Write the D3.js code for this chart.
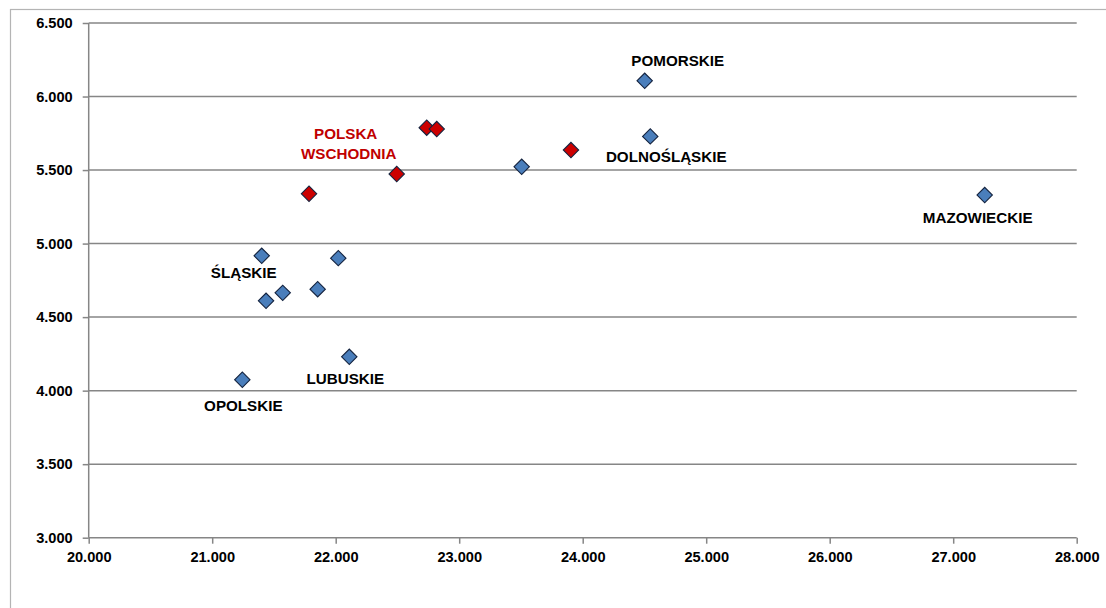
<!DOCTYPE html>
<html>
<head>
<meta charset="utf-8">
<script src="https://cdn.jsdelivr.net/npm/d3@7"></script>
<style>
  body { margin: 0; background: #fff; }
  text { font-family: "Liberation Sans", Arial, sans-serif; font-weight: bold; }
</style>
</head>
<body>
<div id="content"></div>
<script>
// regional scatter: x = income, y = productivity-ish value
var xValues = [24502, 24547, 23506, 27255, 21401, 22021, 21571, 21436, 21854, 22110, 21244];
var yValues = [6107, 5729, 5522, 5330, 4917, 4901, 4665, 4611, 4690, 4230, 4074];

var eastX = [21784, 22494, 22737, 22818, 23905];
var eastY = [5339, 5473, 5788, 5779, 5636];

var xTicks = [20000, 21000, 22000, 23000, 24000, 25000, 26000, 27000, 28000];
var yTicks = [3000, 3500, 4000, 4500, 5000, 5500, 6000, 6500];

// name, index of blue point it belongs to
var labelNames = ["POMORSKIE", "DOLNOŚLĄSKIE", "MAZOWIECKIE", "ŚLĄSKIE", "LUBUSKIE", "OPOLSKIE"];
var labelPoints = [0, 1, 3, 4, 9, 10];
var labelOffsets = [[33, -15], [16, 26], [-7, 28], [-18, 22], [-4, 27], [1, 31]];

// note: "top" is taken by window.top, so plotTop etc.
var w = 1106,
    h = 608,
    plotLeft = 88.7,
    plotRight = 1076.7,
    plotTop = 23,
    plotBottom = 537.7;

var fmt = function(v) { return d3.format(",")(v).replace(",", "."); };

var x = d3.scaleLinear().domain([20000, 28000]).range([plotLeft, plotRight]);
var y = d3.scaleLinear().domain([3000, 6500]).range([plotBottom, plotTop]);

var svg = d3.select("#content")
    .append("svg")
    .attr("width", w)
    .attr("height", h);

// outer frame, runs off the right and bottom edge
svg.append("rect")
    .attr("x", 10.5).attr("y", 9.5)
    .attr("width", 1200).attr("height", 700)
    .attr("fill", "none")
    .attr("stroke", "#b4b4b4")
    .attr("stroke-width", 1.2);

// gridlines
svg.append("g").selectAll("line")
    .data(yTicks)
    .enter()
    .append("line")
    .attr("x1", plotLeft).attr("x2", plotRight)
    .attr("y1", function(d) { return y(d); })
    .attr("y2", function(d) { return y(d); })
    .attr("stroke", "#868686")
    .attr("stroke-width", 1.5);

// y axis
var yAxis = svg.append("g")
    .attr("transform", "translate(" + plotLeft + ",0)")
    .call(d3.axisLeft(y).tickValues(yTicks).tickFormat(fmt).tickSize(6).tickPadding(10));
yAxis.selectAll(".tick line").attr("stroke", "#868686").attr("stroke-width", 1.5);
yAxis.selectAll(".tick text").attr("font-size", 14.6).attr("fill", "#000")
    .attr("font-family", "Liberation Sans, Arial, sans-serif");
yAxis.select(".domain").attr("stroke", "#868686").attr("stroke-width", 1.5)
    .attr("d", "M0," + plotTop + "V" + plotBottom);

// x axis
var xAxis = svg.append("g")
    .attr("transform", "translate(0," + plotBottom + ")")
    .call(d3.axisBottom(x).tickValues(xTicks).tickFormat(fmt).tickSize(6).tickPadding(8));
xAxis.select(".domain").remove();
xAxis.selectAll(".tick line").attr("stroke", "#868686").attr("stroke-width", 1.5);
xAxis.selectAll(".tick text").attr("font-size", 14.6).attr("fill", "#000")
    .attr("font-family", "Liberation Sans, Arial, sans-serif");

var diamond = d3.symbol().type(d3.symbolSquare).size(118);

function plotPoints(xs, ys, fill) {
    svg.append("g").selectAll("path")
        .data(xs.map(function(v, i) { return [v, ys[i]]; }))
        .enter()
        .append("path")
        .attr("d", diamond)
        .attr("transform", function(d) { return "translate(" + x(d[0]) + "," + y(d[1]) + ") rotate(45)"; })
        .attr("fill", fill)
        .attr("stroke", "#14233f")
        .attr("stroke-width", 1.1);
}

plotPoints(xValues, yValues, "#4a7ebb");
plotPoints(eastX, eastY, "#cc0000");

// region labels
svg.append("g").selectAll("text")
    .data(labelNames)
    .enter()
    .append("text")
    .attr("x", function(d, i) { return x(xValues[labelPoints[i]]) + labelOffsets[i][0]; })
    .attr("y", function(d, i) { return y(yValues[labelPoints[i]]) + labelOffsets[i][1]; })
    .attr("text-anchor", "middle")
    .attr("font-size", 15.2)
    .attr("fill", "#000")
    .text(function(d) { return d; });

// label for the eastern group, anchored near the second red point
var east = svg.append("text")
    .attr("text-anchor", "middle")
    .attr("font-size", 15.2)
    .attr("fill", "#c00000");
east.append("tspan").attr("x", x(eastX[1]) - 51).attr("y", y(eastY[1]) - 35).text("POLSKA");
east.append("tspan").attr("x", x(eastX[1]) - 48).attr("y", y(eastY[1]) - 15).text("WSCHODNIA");
</script>
</body>
</html>
